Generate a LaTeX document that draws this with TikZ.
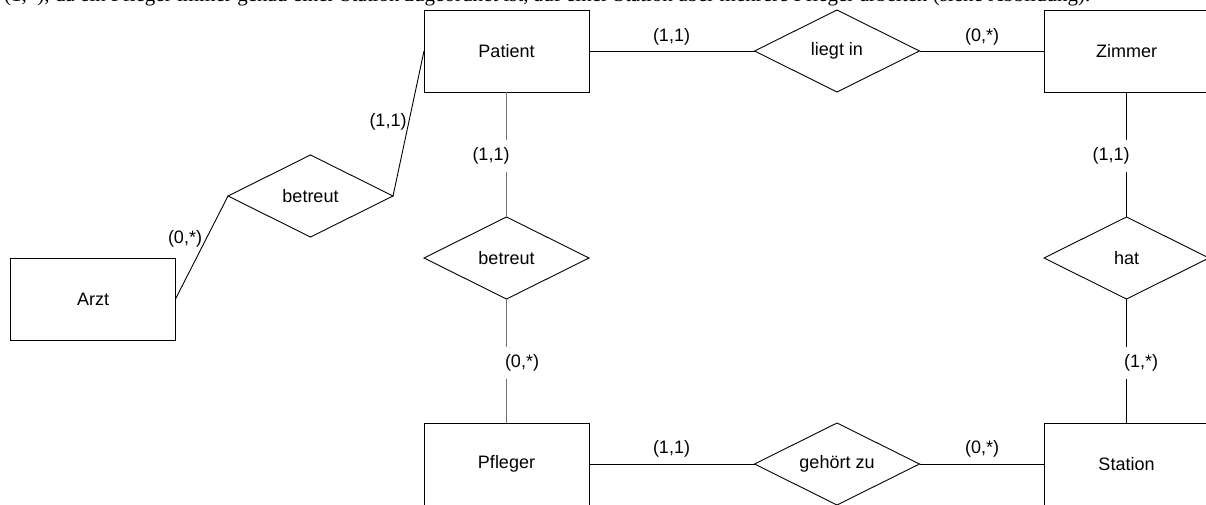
\documentclass[tikz,border=0pt]{standalone}
\usepackage{fontspec}
\setmainfont{Liberation Sans}
\newfontfamily\serifhead{Liberation Serif}
\usetikzlibrary{shapes.geometric}
\begin{document}
\begin{tikzpicture}[x=1pt,y=-1pt,
  every node/.style={font=\fontsize{18pt}{21pt}\selectfont},
  entity/.style={draw, line width=0.9pt, rectangle, minimum width=165pt, minimum height=82pt, inner sep=0pt, outer sep=0pt},
  relation/.style={draw, line width=0.9pt, diamond, aspect=2, minimum width=165pt, minimum height=82pt, inner sep=0pt, outer sep=0pt},
  link/.style={line width=0.9pt},
  glink/.style={line width=1.3pt, black!55},
  card/.style={inner sep=0pt},
  cardgap/.style={fill=white, inner xsep=2pt, inner ysep=8pt}]
\useasboundingbox (0,0) rectangle (1206,505);
\clip (0,0) rectangle (1206,505);
% cut-off line of text above the diagram (only its lowest part is visible)
\node[anchor=base west, inner sep=0pt, font=\serifhead\fontsize{21pt}{24pt}\selectfont] (intro) at (4,1.5)
  {\makebox[1086pt][s]{(1,*), da ein Pfleger immer genau einer Station zugeordnet ist, auf einer Station aber mehrere Pfleger arbeiten (siehe Abbildung).}};
% entities
\node[entity] (patient) at (506.5,51) {Patient};
\node[entity] (zimmer) at (1126.5,51) {Zimmer};
\node[entity] (arzt) at (93,299) {Arzt};
\node[entity] (pfleger) at (506.5,464) {Pfleger};
\node[entity] (station) at (1126.5,464) {Station};
% relationships
\node[relation] (liegtin) at (837,51) {liegt in};
\node[relation] (betreutL) at (310.5,196) {betreut};
\node[relation] (betreutM) at (506.5,258) {betreut};
\node[relation] (hat) at (1126.5,258) {hat};
\node[relation] (gehoert) at (837,464) {gehört zu};
% connectors
\draw[link] (patient.east) -- (liegtin.west);
\draw[link] (liegtin.east) -- (zimmer.west);
\draw[link] (zimmer.south) -- (hat.north);
\draw[link] (hat.south) -- (station.north);
\draw[glink] (patient.south) -- (betreutM.north);
\draw[glink] (betreutM.south) -- (pfleger.north);
\draw[link] (pfleger.east) -- (gehoert.west);
\draw[link] (gehoert.east) -- (station.west);
\draw[link] (betreutL.east) -- (patient.west);
\draw[link] (betreutL.west) -- (arzt.east);
% cardinalities
\node[card] (c1) at (671.5,37) {(1,1)};
\node[card] (c2) at (982,37) {(0,*)};
\node[cardgap] (c3) at (1111,156) {(1,1)};
\node[cardgap] (c4) at (1141,363) {(1,*)};
\node[cardgap] (c5) at (491,156) {(1,1)};
\node[cardgap] (c6) at (522,363) {(0,*)};
\node[card] (c7) at (671.5,449) {(1,1)};
\node[card] (c8) at (982,449) {(0,*)};
\node[card] (c9) at (388,122) {(1,1)};
\node[card] (c10) at (185,239) {(0,*)};
\end{tikzpicture}
\end{document}
